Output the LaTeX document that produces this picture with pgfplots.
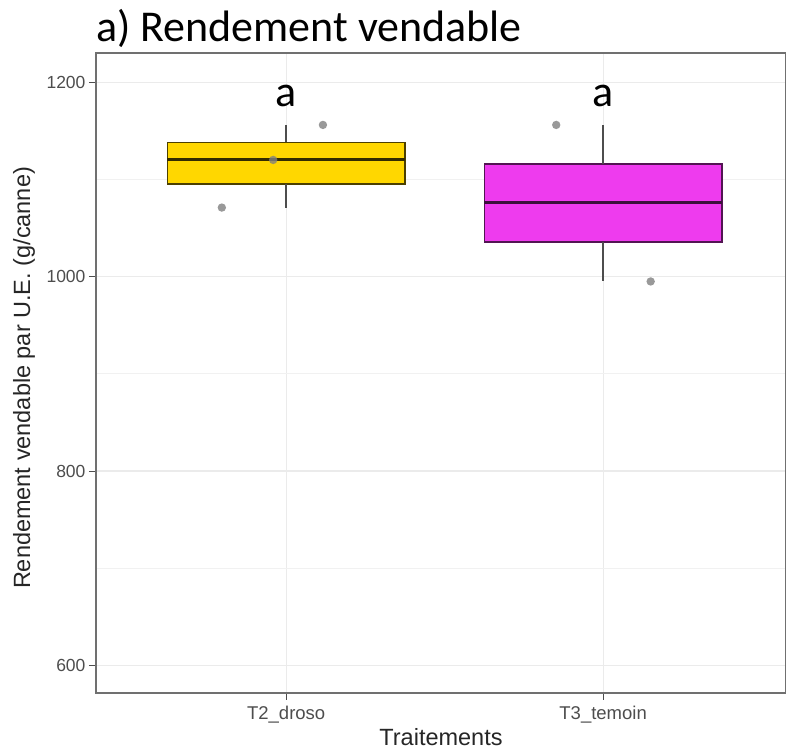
\documentclass[border=0pt]{standalone}
\usepackage{fontspec}
\setmainfont{Liberation Sans}
\newfontfamily\titlefont{Carlito}
\usepackage{pgfplots}
\pgfplotsset{compat=1.18}
\definecolor{gridc}{HTML}{EBEBEB}
\definecolor{gold}{HTML}{FFD700}
\definecolor{mag}{HTML}{EE3BEE}
\definecolor{txtgray}{HTML}{4D4D4D}
\definecolor{ptc}{HTML}{808080}
\definecolor{border}{HTML}{707070}
\begin{document}
\begin{tikzpicture}
\useasboundingbox (0pt,0pt) rectangle (786pt,751pt);
\begin{axis}[
  at={(96pt,58pt)}, anchor=south west, scale only axis,
  width=690pt, height=640pt,
  xmin=0.4, xmax=2.577, ymin=571.7, ymax=1230,
  axis line style={border, line width=1.3pt},
  xtick={1,2}, xticklabels={T2\_droso,T3\_temoin},
  ytick={600,800,1000,1200}, minor ytick={700,900,1100},
  grid=both,
  major grid style={gridc, line width=1.2pt},
  minor grid style={gridc!70, line width=0.7pt},
  tick align=outside, major tick length=7pt,
  minor tick style={draw=none},
  major tick style={txtgray, line width=1pt},
  xtick pos=bottom, ytick pos=left,
  yticklabel style={font=\fontsize{17.5}{20}\selectfont, text=txtgray},
  xticklabel style={font=\fontsize{18.5}{21}\selectfont, text=txtgray, yshift=-3pt},
  /pgf/number format/assume math mode=true,
  /pgf/number format/1000 sep={},
]
% T2_droso box (Q1, Q3)
\addplot[fill=gold, draw=black!70!gold, line width=1.5pt]
  coordinates {(0.625,1095.5) (1.375,1095.5) (1.375,1138) (0.625,1138)} -- cycle;
\addplot[txtgray, line width=1.8pt] coordinates {(1,1138) (1,1156)};
\addplot[txtgray, line width=1.8pt] coordinates {(1,1095.5) (1,1071)};
\addplot[black!80!gold, line width=3pt] coordinates {(0.625,1120) (1.375,1120)};
% T3_temoin box
\addplot[fill=mag, draw=black!65!mag, line width=1.5pt]
  coordinates {(1.625,1035.5) (2.375,1035.5) (2.375,1116) (1.625,1116)} -- cycle;
\addplot[txtgray, line width=1.8pt] coordinates {(2,1116) (2,1156)};
\addplot[txtgray, line width=1.8pt] coordinates {(2,1035.5) (2,995)};
\addplot[black!75!mag, line width=3pt] coordinates {(1.625,1076) (2.375,1076)};
% points
\addplot[only marks, mark=*, mark size=4.2pt, draw opacity=0,
   mark options={fill=ptc, draw opacity=0, fill opacity=0.8}]
   coordinates {(0.797,1071) (0.959,1120) (1.116,1156) (1.852,1156) (2.15,995)};
\node[font=\titlefont\fontsize{44}{46}\selectfont, anchor=base] at (axis cs:1,1175) {a};
\node[font=\titlefont\fontsize{44}{46}\selectfont, anchor=base] at (axis cs:2,1175) {a};
\end{axis}
\node[anchor=base west, inner sep=0pt, font=\titlefont\fontsize{44}{48}\selectfont] at (96pt,709pt) {a) Rendement vendable};
\node[font=\fontsize{23.5}{26}\selectfont, text=black!85] at (441pt,14pt) {Traitements};
\node[rotate=90, font=\fontsize{23.5}{26}\selectfont, text=black!85] at (24pt,373pt) {Rendement vendable par U.E. (g/canne)};
\end{tikzpicture}
\end{document}
